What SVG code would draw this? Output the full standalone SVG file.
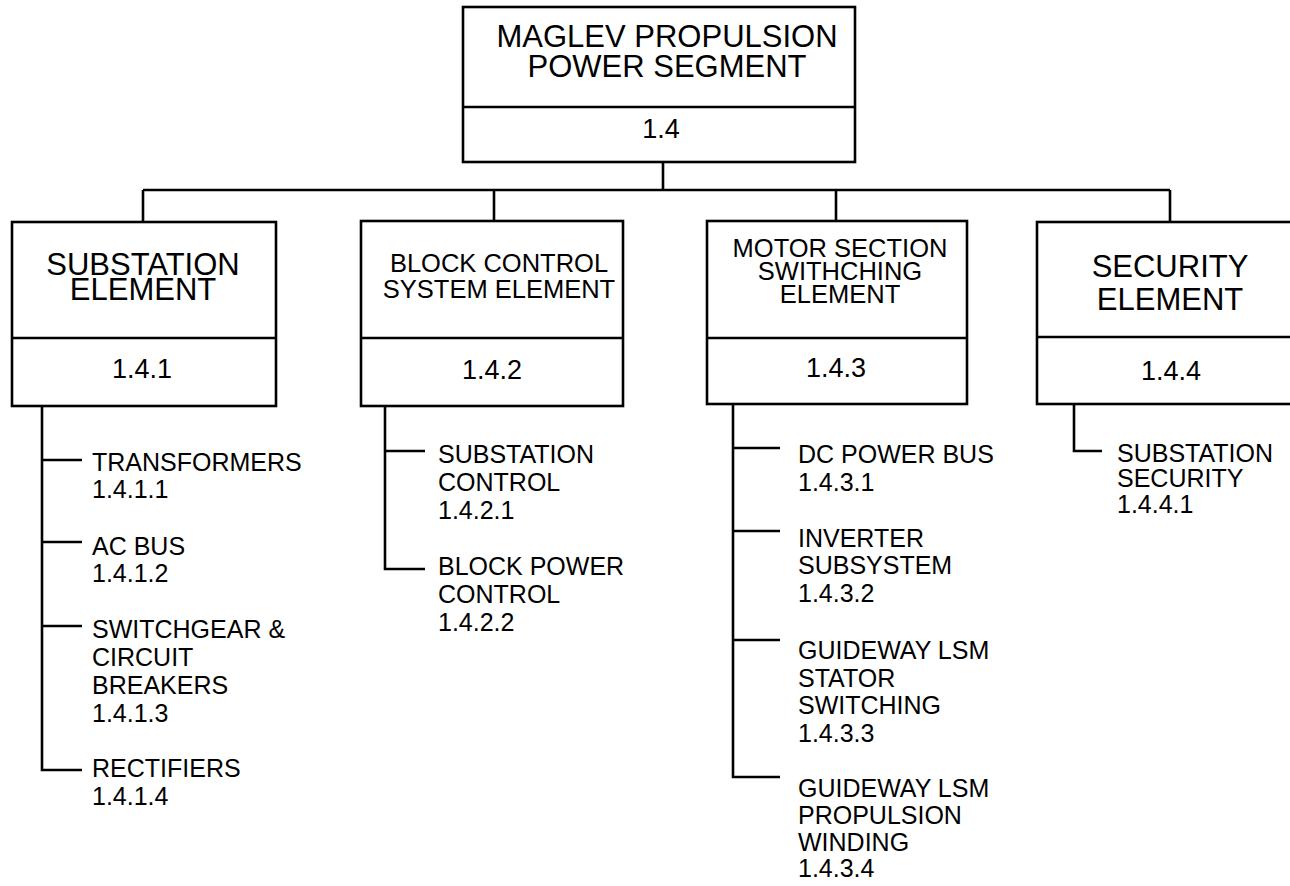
<svg xmlns="http://www.w3.org/2000/svg" width="1290" height="886" viewBox="0 0 1290 886">
<style>
.box{fill:#fff;stroke:#000;stroke-width:2.6}
.ln{fill:none;stroke:#000;stroke-width:2.6}
text{font-family:"Liberation Sans",Arial,sans-serif;fill:#000}
.t1{font-size:31px;text-anchor:middle}
.t2{font-size:25.5px;text-anchor:middle}
.n{font-size:27px;text-anchor:middle}
.s{font-size:25px}
</style>
<rect width="1290" height="886" fill="#fff"/>
<g id="connectors">
<path class="ln" d="M663 162V190M143 190H1170M143 190V222M494 190V221M836 190V221M1170 190V222"/>
<path class="ln" d="M42 406V770H82M42 460H82M42 542H82M42 626H82"/>
<path class="ln" d="M385 406V569H425M385 451H425"/>
<path class="ln" d="M733 404V777H780M733 448H780M733 531H780M733 640H780"/>
<path class="ln" d="M1074 404V451H1102"/>
</g>
<g id="n14">
<rect class="box" x="463" y="7" width="392" height="155"/>
<line class="ln" x1="463" y1="107" x2="855" y2="107"/>
<text class="t1" x="667" y="47">MAGLEV PROPULSION</text>
<text class="t1" x="667" y="77">POWER SEGMENT</text>
<text class="n" x="661" y="138">1.4</text>
</g>
<g id="n141">
<rect class="box" x="12" y="222" width="264" height="184"/>
<line class="ln" x1="12" y1="338" x2="276" y2="338"/>
<text class="t1" x="143" y="275">SUBSTATION</text>
<text class="t1" x="143" y="300">ELEMENT</text>
<text class="n" x="142" y="378">1.4.1</text>
</g>
<g id="n142">
<rect class="box" x="361" y="221" width="262" height="185"/>
<line class="ln" x1="361" y1="338" x2="623" y2="338"/>
<text class="t2" x="499" y="272">BLOCK CONTROL</text>
<text class="t2" x="499" y="298">SYSTEM ELEMENT</text>
<text class="n" x="492" y="379">1.4.2</text>
</g>
<g id="n143">
<rect class="box" x="707" y="221" width="260" height="183"/>
<line class="ln" x1="707" y1="338" x2="967" y2="338"/>
<text class="t2" x="840" y="257">MOTOR SECTION</text>
<text class="t2" x="840" y="280">SWITHCHING</text>
<text class="t2" x="840" y="303">ELEMENT</text>
<text class="n" x="836" y="377">1.4.3</text>
</g>
<g id="n144">
<rect class="box" x="1037" y="222" width="270" height="182"/>
<line class="ln" x1="1037" y1="337" x2="1290" y2="337"/>
<text class="t1" x="1170" y="277">SECURITY</text>
<text class="t1" x="1170" y="310">ELEMENT</text>
<text class="n" x="1171" y="380">1.4.4</text>
</g>
<g id="n1411"><text class="s" x="92" y="471">TRANSFORMERS</text><text class="s" x="92" y="498">1.4.1.1</text></g>
<g id="n1412"><text class="s" x="92" y="555">AC BUS</text><text class="s" x="92" y="582">1.4.1.2</text></g>
<g id="n1413"><text class="s" x="92" y="638">SWITCHGEAR &amp;</text><text class="s" x="92" y="666">CIRCUIT</text><text class="s" x="92" y="694">BREAKERS</text><text class="s" x="92" y="722">1.4.1.3</text></g>
<g id="n1414"><text class="s" x="92" y="777">RECTIFIERS</text><text class="s" x="92" y="805">1.4.1.4</text></g>
<g id="n1421"><text class="s" x="438" y="463">SUBSTATION</text><text class="s" x="438" y="491">CONTROL</text><text class="s" x="438" y="519">1.4.2.1</text></g>
<g id="n1422"><text class="s" x="438" y="575">BLOCK POWER</text><text class="s" x="438" y="603">CONTROL</text><text class="s" x="438" y="631">1.4.2.2</text></g>
<g id="n1431"><text class="s" x="798" y="463">DC POWER BUS</text><text class="s" x="798" y="491">1.4.3.1</text></g>
<g id="n1432"><text class="s" x="798" y="547">INVERTER</text><text class="s" x="798" y="574">SUBSYSTEM</text><text class="s" x="798" y="602">1.4.3.2</text></g>
<g id="n1433"><text class="s" x="798" y="659">GUIDEWAY LSM</text><text class="s" x="798" y="687">STATOR</text><text class="s" x="798" y="714">SWITCHING</text><text class="s" x="798" y="742">1.4.3.3</text></g>
<g id="n1434"><text class="s" x="798" y="797">GUIDEWAY LSM</text><text class="s" x="798" y="824">PROPULSION</text><text class="s" x="798" y="851">WINDING</text><text class="s" x="798" y="877">1.4.3.4</text></g>
<g id="n1441"><text class="s" x="1117" y="462">SUBSTATION</text><text class="s" x="1117" y="487">SECURITY</text><text class="s" x="1117" y="513">1.4.4.1</text></g>
</svg>
